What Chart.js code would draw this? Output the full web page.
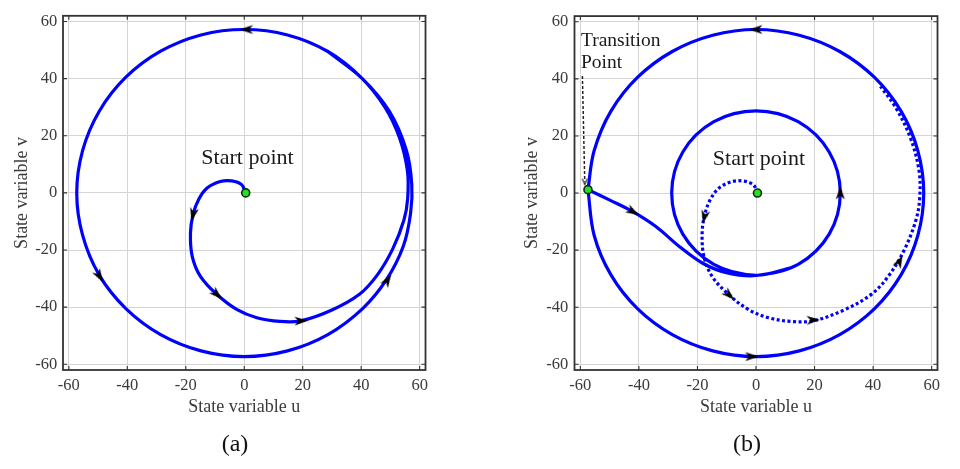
<!DOCTYPE html>
<html>
<head>
<meta charset="utf-8">
<script src="https://cdn.jsdelivr.net/npm/chart.js@4.4.1/dist/chart.umd.min.js"></script>
<style>
  html, body { margin: 0; padding: 0; background: #fff; overflow: hidden; }
  #wrap { position: relative; width: 960px; height: 469px; }
  #chartA { position: absolute; left: 0; top: 0; }
  #chartB { position: absolute; left: 500px; top: 0; }
  .cap { position: absolute; top: 443px; transform: translate(-50%, -50%);
         font-family: "Liberation Serif", "Times New Roman", serif; font-size: 24px; color: #111; }
</style>
</head>
<body>
<div id="wrap">
  <canvas id="chartA" width="480" height="469"></canvas>
  <canvas id="chartB" width="460" height="469"></canvas>
  <div class="cap" style="left:235px">(a)</div>
  <div class="cap" style="left:747px">(b)</div>
</div>
<script>
// tick values shared by both panels
var tickValues = [-60, -40, -20, 0, 20, 40, 60];

// inner spiral leaving the start point (same in both panels)
var spiralU = [0.5, -0.9, -4.3, -8.2, -12.7, -15.6, -17.5, -18.4, -17.8, -15.0, -9.4, -2.6, 4.3, 12.2, 19.4,
               29.8, 39.4, 45.6, 50.8, 54.6, 55.9];
var spiralV = [0, 2.9, 4.2, 4.0, 1.7, -2.3, -7.5, -14.0, -22.2, -29.2, -35.5, -40.8, -43.7, -45.0, -44.8,
               -41.1, -35.5, -28.6, -19.6, -9.6, -2.0];

// (a) the lap around the big cycle after the spiral, ending on top of itself
var lapU = [55.8, 53.1, 48.1, 40.2, 28.6, 14.8, 0, -14.8, -28.6, -40.5, -49.6, -55.3, -57.3, -55.3, -49.6, -40.5,
            -28.6, -14.8, 0, 14.8, 28.6, 40.5, 48.7, 54.4, 56.9, 57.3, 55.5, 49.6, 40.2, 28.6];
var lapV = [7.8, 19.3, 30.0, 40.2, 49.5, 55.3, 57.2, 55.3, 49.6, 40.5, 28.6, 14.8, 0, -14.8, -28.8, -40.5,
            -49.6, -55.3, -57.3, -55.3, -49.6, -40.5, -30.3, -18.7, -7.1, 3.0, 14.8, 28.6, 40.2, 49.5];

// (b) dotted part after the spiral, running up just inside the outer cycle
var dotTailU = [55.7, 52.8, 47.8, 42.5];
var dotTailV = [7.8, 19.2, 29.8, 37.4];

// (b) outer cycle, starting and ending at the transition point
var outerU = [-57.4, -55.3, -49.6, -40.5, -28.6, -14.8, 0, 14.8, 28.6, 40.5, 49.6, 55.3, 57.3, 55.3, 49.6,
              40.5, 28.6, 14.8, 0, -14.8, -28.6, -40.5, -49.6, -55.3, -57.4];
var outerV = [1.2, -14.8, -28.6, -40.5, -49.6, -55.3, -57.3, -55.3, -49.6, -40.5, -28.6, -14.8, 0, 14.8, 28.6,
              40.5, 49.6, 55.3, 57.3, 55.3, 49.6, 40.5, 28.6, 14.8, 1.2];

// (b) from the transition point into the small cycle
var innerU = [-57.4, -50.1, -42.1, -34.1, -26.1, -18.2, -10.1, 0, 14.4, 25.0, 28.8, 25.0, 14.4, 0, -14.4,
              -25.0, -28.8, -25.0, -14.4, 0, 12.0];
var innerV = [1.2, -2.4, -6.5, -11.8, -18.8, -24.6, -27.9, -28.9, -25.0, -14.4, 0, 14.4, 25.0, 28.8, 25.0,
              14.4, 0, -14.4, -25.0, -28.8, -26.2];

// arrow heads: position and heading (degrees, direction of travel)
var arrowAU = [-17.5, -9.4, 19.4, 0.8, -49.6, 49.0];
var arrowAV = [-7.5, -35.5, -44.8, 57.2, -29.1, -30.6];
var arrowAH = [-103, -43, 3, 180, -60, 58];

var arrowBDotU = [-17.6, -9.2, 19.5, 49.0];
var arrowBDotV = [-8.3, -35.7, -44.5, -24.0];
var arrowBDotH = [-103, -43, 3, 64];

var arrowBSolU = [0, -1.5, -42.1, 28.8];
var arrowBSolV = [57.3, -57.3, -6.5, 0];
var arrowBSolH = [180, 0, -30, 90];

// marked points
var startU = [0.5], startV = [0];
var transU = [-57.4], transV = [1.2];

// dashed pointer to the transition point
var pointerU = [-59.3, -58.5];
var pointerV = [41.0, 4.0];

var SERIF = '"Liberation Serif", "Times New Roman", serif';
var BLUE = '#0000ff';

function pts(us, vs) {
  return us.map(function(u, i) { return {x: u, y: vs[i]}; });
}
function rot(hs) {
  return hs.map(function(h) { return 90 - h; });
}

// black barbed arrow head, pointing up
function makeHead() {
  var c = document.createElement('canvas');
  c.width = 16; c.height = 16;
  var g = c.getContext('2d');
  g.fillStyle = '#000';
  g.beginPath();
  g.moveTo(8, 1);
  g.lineTo(12.5, 14.5);
  g.lineTo(8, 10.5);
  g.lineTo(3.5, 14.5);
  g.closePath();
  g.fill();
  return c;
}
// small open head for the dashed pointer, pointing up
function makeVee() {
  var c = document.createElement('canvas');
  c.width = 10; c.height = 10;
  var g = c.getContext('2d');
  g.strokeStyle = '#222';
  g.lineWidth = 1.1;
  g.beginPath();
  g.moveTo(2.5, 8);
  g.lineTo(5, 2);
  g.lineTo(7.5, 8);
  g.stroke();
  return c;
}
var head = makeHead();
var vee = makeVee();

function lineSet(data, dash, order) {
  return {
    data: data, showLine: true, borderColor: BLUE, borderWidth: 3.2,
    borderDash: dash || [], pointRadius: 0, tension: 0.35, fill: false, order: order
  };
}
function arrowSet(us, vs, hs) {
  return {
    data: pts(us, vs), showLine: false, pointStyle: head, pointRadius: 7,
    pointRotation: rot(hs), order: 1
  };
}
function dotSet(us, vs) {
  return {
    data: pts(us, vs), showLine: false, pointStyle: 'circle', pointRadius: 4,
    pointBackgroundColor: '#22e022', pointBorderColor: '#0b2a0b', pointBorderWidth: 1.6, order: 0
  };
}

function framePlugin(notes) {
  return {
    id: 'frame',
    afterDraw: function(chart) {
      var ctx = chart.ctx, a = chart.chartArea, sx = chart.scales.x, sy = chart.scales.y;
      ctx.save();
      ctx.strokeStyle = '#333';
      ctx.lineWidth = 1.1;
      tickValues.forEach(function(t) {
        var px = sx.getPixelForValue(t), py = sy.getPixelForValue(t);
        ctx.beginPath();
        ctx.moveTo(px, a.bottom); ctx.lineTo(px, a.bottom - 4);
        ctx.moveTo(px, a.top); ctx.lineTo(px, a.top + 4);
        ctx.moveTo(a.left, py); ctx.lineTo(a.left + 4, py);
        ctx.moveTo(a.right, py); ctx.lineTo(a.right - 4, py);
        ctx.stroke();
      });
      ctx.lineWidth = 1.8;
      ctx.strokeRect(a.left, a.top, a.right - a.left, a.bottom - a.top);
      ctx.fillStyle = '#1a1a1a';
      ctx.textBaseline = 'middle';
      notes.forEach(function(n) {
        ctx.font = n.size + 'px ' + SERIF;
        ctx.textAlign = n.align;
        ctx.fillText(n.text, sx.getPixelForValue(n.u), sy.getPixelForValue(n.v));
      });
      ctx.restore();
    }
  };
}

function scales(yWidth, yTitlePad, yTickPad) {
  var tickFont = {family: SERIF, size: 16.5};
  var titleFont = {family: SERIF, size: 18};
  return {
    x: {
      type: 'linear', min: -62, max: 62,
      afterBuildTicks: function(s) { s.ticks = tickValues.map(function(v) { return {value: v}; }); },
      afterFit: function(s) { s.height = 50; },
      grid: {color: '#d4d4d4', lineWidth: 1, drawTicks: false},
      border: {display: false},
      ticks: {padding: 6, color: '#3a3a3a', font: tickFont, maxRotation: 0, autoSkip: false,
              callback: function(v) { return String(v); }},
      title: {display: true, text: 'State variable u', color: '#3a3a3a', font: titleFont,
              padding: {top: 0, bottom: 2}}
    },
    y: {
      type: 'linear', min: -62, max: 62,
      afterBuildTicks: function(s) { s.ticks = tickValues.map(function(v) { return {value: v}; }); },
      afterFit: function(s) { s.width = yWidth; },
      grid: {color: '#d4d4d4', lineWidth: 1, drawTicks: false},
      border: {display: false},
      ticks: {padding: yTickPad, color: '#3a3a3a', font: tickFont, autoSkip: false,
              callback: function(v) { return String(v); }},
      title: {display: true, text: 'State variable v', color: '#3a3a3a', font: titleFont,
              padding: {top: yTitlePad, bottom: 0}}
    }
  };
}

function baseOptions(padRight, yWidth, yTitlePad, yTickPad) {
  return {
    responsive: false,
    animation: false,
    layout: {padding: {left: 0, right: padRight, top: 15.8, bottom: 49}},
    plugins: {legend: {display: false}, tooltip: {enabled: false}},
    scales: scales(yWidth, yTitlePad, yTickPad)
  };
}

// panel (a)
new Chart(document.getElementById('chartA').getContext('2d'), {
  type: 'scatter',
  data: {
    datasets: [
      dotSet(startU, startV),
      arrowSet(arrowAU, arrowAV, arrowAH),
      lineSet(pts(spiralU.concat(lapU), spiralV.concat(lapV)), null, 2)
    ]
  },
  options: baseOptions(54.5, 63, 11.2, 5.7),
  plugins: [framePlugin([{text: 'Start point', u: 1.1, v: 12, size: 22, align: 'center'}])]
});

// panel (b)
new Chart(document.getElementById('chartB').getContext('2d'), {
  type: 'scatter',
  data: {
    datasets: [
      dotSet(startU.concat(transU), startV.concat(transV)),
      arrowSet(arrowBSolU, arrowBSolV, arrowBSolH),
      arrowSet(arrowBDotU, arrowBDotV, arrowBDotH),
      {
        data: [{x: pointerU[1], y: pointerV[1]}], showLine: false, pointStyle: vee,
        pointRadius: 5, pointRotation: 90 - (-88.8), order: 1
      },
      {
        data: pts(pointerU, pointerV), showLine: true, borderColor: '#222', borderWidth: 1.5,
        borderDash: [3, 2], pointRadius: 0, order: 2
      },
      lineSet(pts(outerU, outerV), null, 3),
      lineSet(pts(innerU, innerV), null, 3),
      lineSet(pts(spiralU.concat(dotTailU), spiralV.concat(dotTailV)), [3, 2.5], 4)
    ]
  },
  options: baseOptions(22.5, 74.5, 21.5, 6.2),
  plugins: [framePlugin([
    {text: 'Start point', u: 1.0, v: 11.8, size: 22, align: 'center'},
    {text: 'Transition', u: -59.8, v: 53.3, size: 19.5, align: 'left'},
    {text: 'Point', u: -59.8, v: 45.6, size: 19.5, align: 'left'}
  ])]
});
</script>
</body>
</html>
